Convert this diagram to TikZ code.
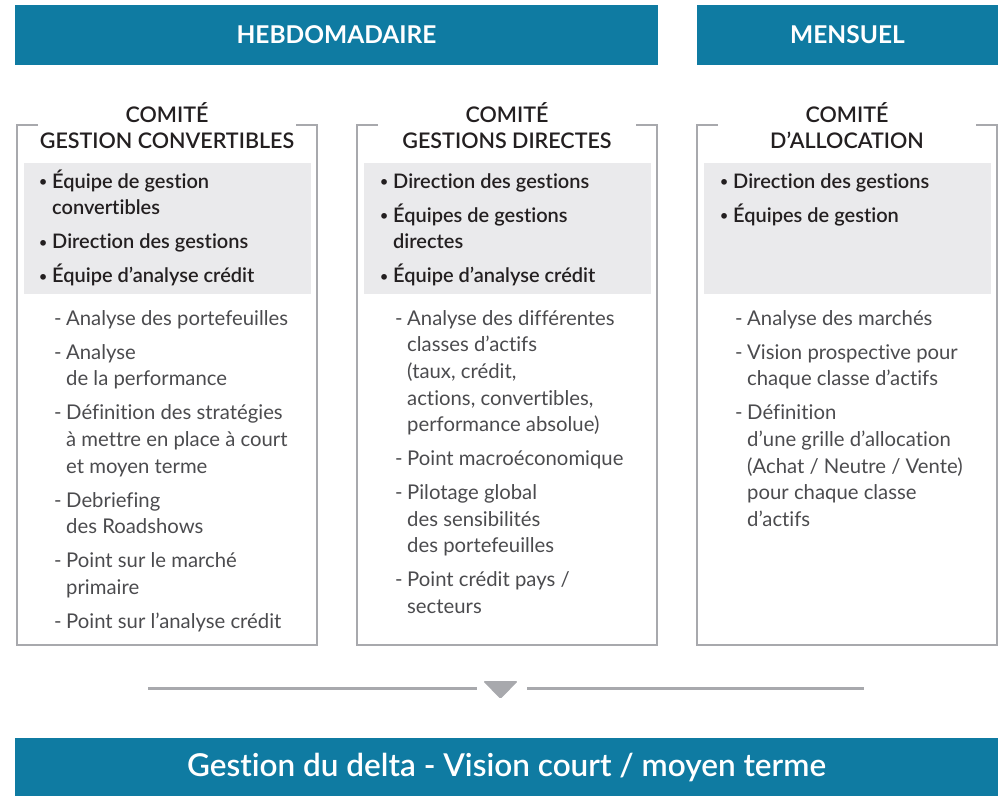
\documentclass[tikz,border=0pt]{standalone}
\usepackage{fontspec}
\setmainfont{Lato}[Ligatures={NoCommon}]
\IfFontExistsTF{Lato Semibold}{\newfontfamily\medfont{Lato Semibold}[Ligatures={NoCommon}]}{\newcommand\medfont{\bfseries}}
\usepackage{array}
\newcommand\puce{{\fontsize{14}{14}\selectfont\raisebox{1.5pt}{•}}}
\begin{document}
\begin{tikzpicture}[x=1pt, y=-1pt,
  bar/.style={fill=MyTeal, text=white, inner sep=0pt},
  titre/.style={align=center, text=MyBlack, inner sep=0pt, font=\medfont\fontsize{21.5}{26}\selectfont},
  liste/.style={anchor=north west, inner sep=0pt, text=MyBlack, font=\medfont\fontsize{20}{26.6}\selectfont},
  detail/.style={anchor=north west, inner sep=0pt, text=MyText, font=\fontsize{20.3}{26.6}\selectfont}]
\definecolor{MyTeal}{RGB}{15, 123, 162}
\definecolor{MyGrey}{RGB}{168, 169, 173}
\definecolor{MyShade}{RGB}{234, 234, 236}
\definecolor{MyBlack}{RGB}{35, 31, 32}
\definecolor{MyText}{RGB}{75, 75, 78}
\useasboundingbox (0,0) rectangle (1006,796);
\node[bar, minimum width=643, minimum height=60, font=\bfseries\fontsize{24.5}{28}\selectfont] (hebdo) at (336.5,35) {HEBDOMADAIRE};
\node[bar, minimum width=301, minimum height=60, font=\bfseries\fontsize{24.5}{28}\selectfont] (mensuel) at (847.5,35) {MENSUEL};
\foreach \x in {17, 357, 697}{
\fill[MyShade] (\x+7, 163) rectangle (\x+294, 294);
\draw[MyGrey, line width=2pt] (\x+21, 125) -- (\x, 125) -- (\x, 645) -- (\x+300, 645) -- (\x+300, 125) -- (\x+279, 125);
}
\node[titre] (conv-titre) at (167,126) {COMITÉ\\GESTION CONVERTIBLES};
\node[titre] (dir-titre) at (507,126) {COMITÉ\\GESTIONS DIRECTES};
\node[titre] (alloc-titre) at (847,126) {COMITÉ\\D’ALLOCATION};
\node[liste] (conv-liste) at (39,169.4) {\begin{tabular}{@{}p{13pt}@{}l@{}}
\puce & Équipe de gestion\\ & convertibles\\[7.4pt]
\puce & Direction des gestions\\[7.4pt]
\puce & Équipe d’analyse crédit
\end{tabular}};
\node[liste] (dir-liste) at (380,169.4) {\begin{tabular}{@{}p{13pt}@{}l@{}}
\puce & Direction des gestions\\[7.4pt]
\puce & Équipes de gestions\\ & directes\\[7.4pt]
\puce & Équipe d’analyse crédit
\end{tabular}};
\node[liste] (alloc-liste) at (720,169.4) {\begin{tabular}{@{}p{13pt}@{}l@{}}
\puce & Direction des gestions\\[7.4pt]
\puce & Équipes de gestion
\end{tabular}};
\node[detail] (conv-detail) at (54,306.4) {\begin{tabular}{@{}p{12pt}@{}l@{}}
- & Analyse des portefeuilles\\[7.4pt]
- & Analyse\\ & de la performance\\[7.4pt]
- & Définition des stratégies\\ & à mettre en place à court\\ & et moyen terme\\[7.4pt]
- & Debriefing\\ & des Roadshows\\[7.4pt]
- & Point sur le marché\\ & primaire\\[7.4pt]
- & Point sur l’analyse crédit
\end{tabular}};
\node[detail] (dir-detail) at (395,306.4) {\begin{tabular}{@{}p{12pt}@{}l@{}}
- & Analyse des différentes\\ & classes d’actifs\\ & (taux, crédit,\\ & actions, convertibles,\\ & performance absolue)\\[7.4pt]
- & Point macroéconomique\\[7.4pt]
- & Pilotage global\\ & des sensibilités\\ & des portefeuilles\\[7.4pt]
- & Point crédit pays /\\ & secteurs
\end{tabular}};
\node[detail] (alloc-detail) at (735,306.4) {\begin{tabular}{@{}p{12pt}@{}l@{}}
- & Analyse des marchés\\[7.4pt]
- & Vision prospective pour\\ & chaque classe d’actifs\\[7.4pt]
- & Définition\\ & d’une grille d’allocation\\ & (Achat / Neutre / Vente)\\ & pour chaque classe\\ & d’actifs
\end{tabular}};
\coordinate (trait-a) at (148,688);
\coordinate (trait-b) at (477,688);
\coordinate (trait-c) at (527,688);
\coordinate (trait-d) at (864,688);
\draw[MyGrey, line width=3pt] (trait-a) -- (trait-b);
\draw[MyGrey, line width=3pt] (trait-c) -- (trait-d);
\fill[MyGrey, rounded corners=1.5pt] (483,681) -- (518,681) -- (500.5,699) -- cycle;
\node[bar, minimum width=983, minimum height=58, font=\medfont\fontsize{31.5}{36}\selectfont] (delta) at (506.5,767) {Gestion du delta - Vision court / moyen terme};
\end{tikzpicture}
\end{document}
